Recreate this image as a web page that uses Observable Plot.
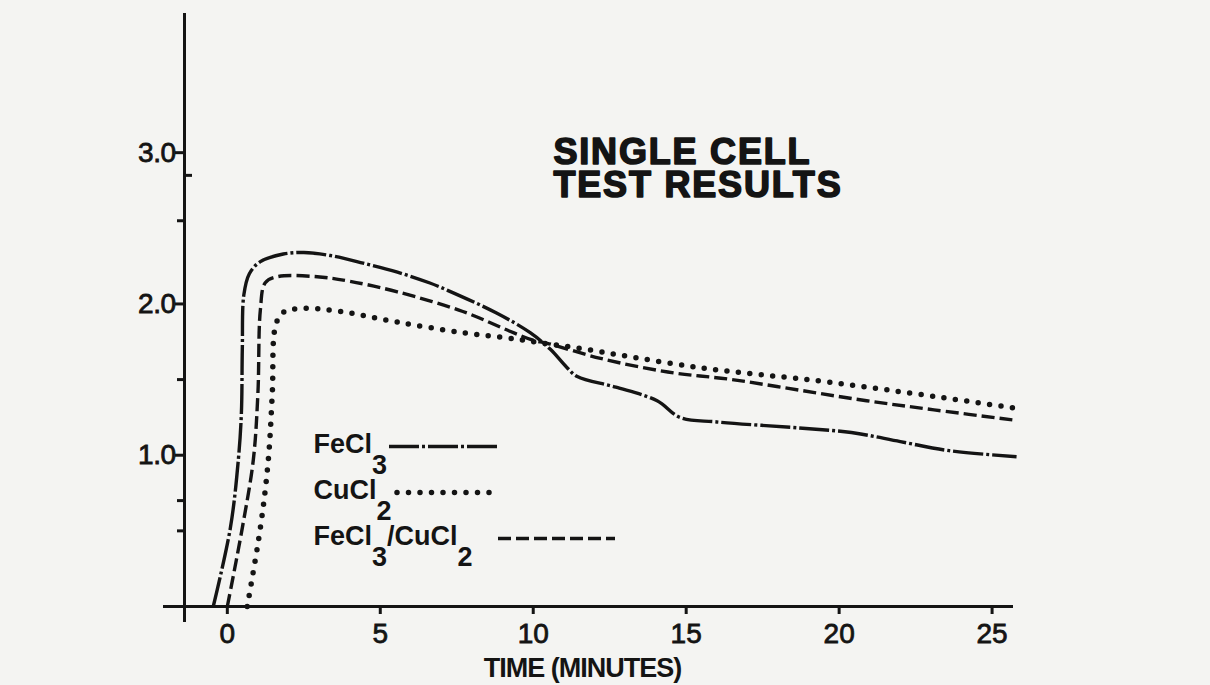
<!DOCTYPE html>
<html>
<head>
<meta charset="utf-8">
<script src="https://cdn.jsdelivr.net/npm/d3@7"></script>
<script src="https://cdn.jsdelivr.net/npm/@observablehq/plot@0.6"></script>
<style>
  html, body { margin: 0; padding: 0; background: #f4f4f2; }
  #chart svg { display: block; background: #f4f4f2; }
</style>
</head>
<body>
<div id="chart"></div>
<script>
// ---------- data ----------
const feTime = [-0.46, 0.1, 0.36, 0.46, 0.49, 0.54, 0.72, 1.08, 1.83, 2.5, 3.37, 4.44, 5.56, 6.6, 7.2, 8.8, 9.9, 10.56, 11.1, 11.44, 12.7, 14.05, 14.8, 16.0, 18.7, 20.4, 22.0, 23.6, 25.8];
const feVolt = [0, 0.52, 0.97, 1.28, 1.7, 2.06, 2.2, 2.28, 2.33, 2.34, 2.32, 2.27, 2.21, 2.14, 2.09, 1.94, 1.81, 1.70, 1.58, 1.52, 1.45, 1.36, 1.25, 1.22, 1.18, 1.15, 1.09, 1.03, 0.99];

const cuTime = [0.65, 1.08, 1.34, 1.47, 1.57, 1.8, 2.39, 3.7, 5.56, 7.7, 9.35, 10.0, 11.4, 15.4, 19.8, 25.8];
const cuVolt = [0, 0.52, 0.97, 1.41, 1.85, 1.94, 1.97, 1.95, 1.88, 1.81, 1.77, 1.75, 1.71, 1.58, 1.48, 1.31];

const mixTime = [0, 0.49, 0.85, 1.0, 1.08, 1.24, 1.63, 2.94, 4.0, 5.56, 7.7, 9.35, 10.0, 10.46, 12.2, 14.4, 16.5, 18.7, 20.9, 23.1, 25.8];
const mixVolt = [0, 0.52, 0.97, 1.41, 1.96, 2.14, 2.18, 2.18, 2.15, 2.08, 1.95, 1.81, 1.76, 1.74, 1.64, 1.55, 1.50, 1.43, 1.36, 1.30, 1.23];

const seriesNames = ["FeCl3", "CuCl2", "FeCl3/CuCl2"];
const xTicks = [0, 5, 10, 15, 20, 25];
const yTicks = [1, 2, 3];
const yMinorLeft = [0.5, 0.7, 1.5, 2.55];
const yMinorRight = [2.85];
const titleLines = ["SINGLE CELL", "TEST RESULTS"];
const xLabel = "TIME (MINUTES)";

// ---------- layout / style ----------
const ink = "#141414";
const W = 1210, H = 685;
const mL = 184, mR = 197, mT = 13, mB = 79;
const xDomain = [-1.4, 25.7];
const yDomain = [0, 3.92];
const font = "'Liberation Sans', Arial, Helvetica, sans-serif";

const xs = d3.scaleLinear(xDomain, [mL, W - mR]);
const ys = d3.scaleLinear(yDomain, [H - mB, mT]);

const series = [
  {name: seriesNames[0], t: feTime, v: feVolt, style: {strokeDasharray: "30,3,3,3", strokeWidth: 3.4, strokeLinecap: "butt"}},
  {name: seriesNames[1], t: cuTime, v: cuVolt, style: {strokeDasharray: "0,11.5", strokeWidth: 5.5, strokeLinecap: "round"}},
  {name: seriesNames[2], t: mixTime, v: mixVolt, style: {strokeDasharray: "13,5", strokeWidth: 3.4, strokeLinecap: "butt"}}
];

// legend layout in pixels, converted through the scales
const legendRows = [
  {textX: 313, y: 444, lineX1: 389, lineX2: 497, lineY: 446},
  {textX: 313, y: 490, lineX1: 397, lineX2: 495, lineY: 492},
  {textX: 313, y: 536, lineX1: 498, lineX2: 615, lineY: 538}
];
// title baselines in pixels
const titleBaselines = [163, 196];

const marks = [];

// axis lines
marks.push(Plot.ruleY([0], {x1: xs.invert(163), x2: xDomain[1], stroke: ink, strokeWidth: 3}));
marks.push(Plot.ruleX([xDomain[0]], {y1: ys.invert(622), y2: yDomain[1], stroke: ink, strokeWidth: 3}));

// axes
marks.push(Plot.axisX(xTicks, {anchor: "bottom", tickSize: 8, tickPadding: 9, strokeWidth: 3, stroke: ink, fill: ink,
  fontSize: 28, fontFamily: font, label: null, tickFormat: d => String(d)}));
marks.push(Plot.axisY(yTicks, {anchor: "left", tickSize: 9, tickPadding: 0, strokeWidth: 3, stroke: ink, fill: ink,
  fontSize: 28, fontFamily: font, label: null, tickFormat: d => d.toFixed(1)}));
marks.push(Plot.axisY(yMinorLeft, {anchor: "left", tickSize: 7, strokeWidth: 3, stroke: ink, label: null, tickFormat: () => ""}));
marks.push(Plot.axisY(yMinorRight, {anchor: "left", tickSize: -8, strokeWidth: 3, stroke: ink, label: null, tickFormat: () => ""}));

// curves
for (const s of series) {
  const rows = s.t.map((t, i) => ({t, v: s.v[i]}));
  marks.push(Plot.line(rows, {x: "t", y: "v", curve: "catmull-rom", stroke: ink, fill: "none", ...s.style}));
}

// legend
series.forEach((s, i) => {
  const r = legendRows[i];
  marks.push(Plot.ruleY([ys.invert(r.lineY)], {x1: xs.invert(r.lineX1), x2: xs.invert(r.lineX2), stroke: ink, ...s.style}));
  marks.push(Plot.text([s.name], {x: xs.invert(r.textX), y: ys.invert(r.y), textAnchor: "start", lineAnchor: "middle",
    fontSize: 27, fontWeight: "bold", fontFamily: font, fill: ink}));
});

// title (two lines, baseline-anchored)
titleLines.forEach((line, i) => {
  marks.push(Plot.text([line], {x: xs.invert(553), y: ys.invert(titleBaselines[i]), textAnchor: "start", lineAnchor: "bottom",
    fontSize: 36, fontWeight: "bold", fontFamily: font, fill: ink, stroke: ink, strokeWidth: 1.6}));
});

// x label
marks.push(Plot.text([xLabel], {x: xs.invert(582), y: ys.invert(676), textAnchor: "middle", lineAnchor: "bottom",
  fontSize: 27, fontWeight: "bold", fontFamily: font, fill: ink}));

const chart = Plot.plot({
  width: W, height: H,
  marginLeft: mL, marginRight: mR, marginTop: mT, marginBottom: mB,
  x: {domain: xDomain, axis: null},
  y: {domain: yDomain, axis: null},
  style: {background: "#f4f4f2", color: ink, fontFamily: font, overflow: "visible"},
  marks
});

document.getElementById("chart").appendChild(chart);

// post-process texts: subscripts in chemical formulas, spacing, weight
chart.querySelectorAll("text").forEach(el => {
  const str = el.textContent;
  if (seriesNames.includes(str)) {
    while (el.firstChild) el.removeChild(el.firstChild);
    const parts = str.split(/(\d)/).filter(p => p !== "");
    let down = false;
    for (const p of parts) {
      const isDigit = /^\d$/.test(p);
      const ts = document.createElementNS("http://www.w3.org/2000/svg", "tspan");
      ts.textContent = p;
      if (isDigit && !down) { ts.setAttribute("dy", "0.78em"); down = true; }
      else if (!isDigit && down) { ts.setAttribute("dy", "-0.78em"); down = false; }
      el.appendChild(ts);
    }
  } else if (titleLines.includes(str)) {
    el.setAttribute("letter-spacing", "1.8");
    el.setAttribute("dy", "0");
  } else if (str === xLabel) {
    el.setAttribute("letter-spacing", "-1");
  } else if (/^\d\.\d$/.test(str)) {
    el.setAttribute("letter-spacing", "-0.5");
    el.setAttribute("stroke", ink);
    el.setAttribute("stroke-width", "0.8");
  } else if (/^\d+$/.test(str)) {
    el.setAttribute("stroke", ink);
    el.setAttribute("stroke-width", "0.8");
  }
});
</script>
</body>
</html>
